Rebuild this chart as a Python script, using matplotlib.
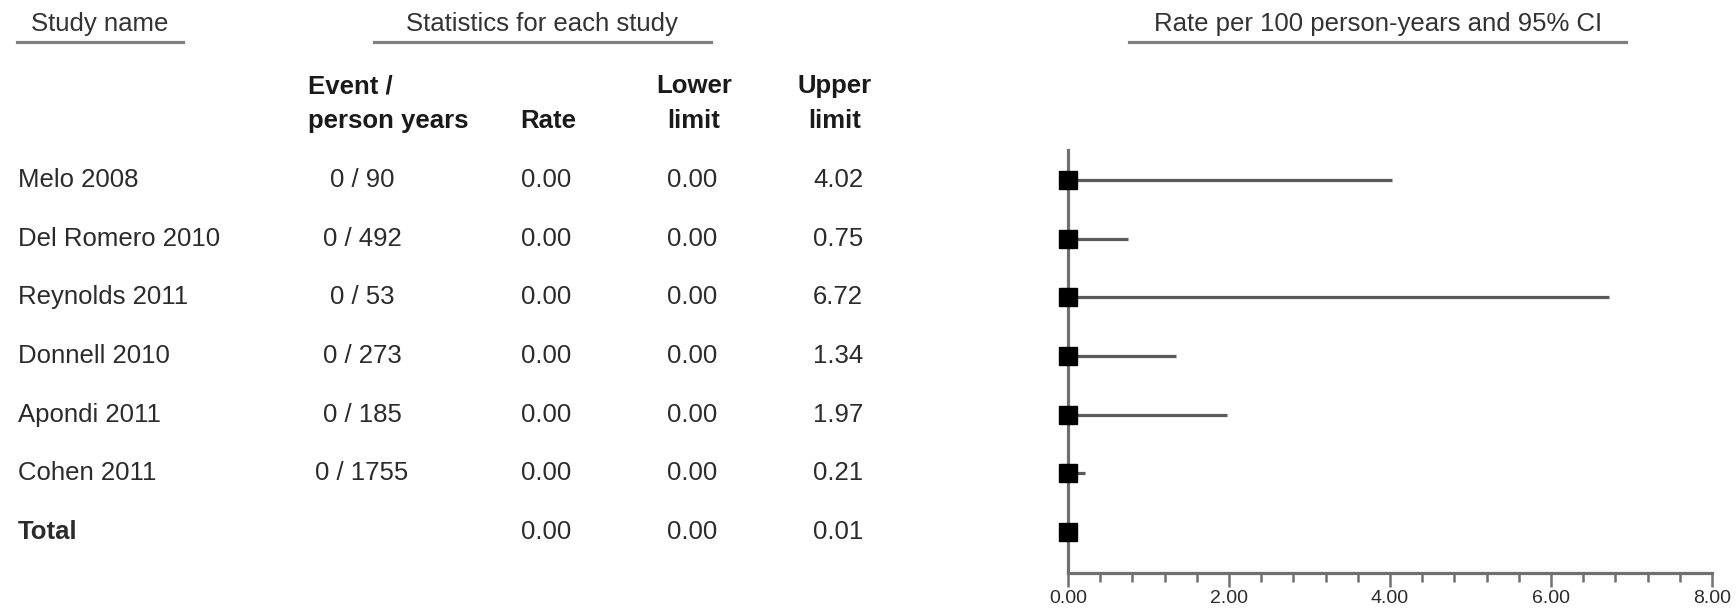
import matplotlib
matplotlib.use("Agg")
import matplotlib.pyplot as plt
from matplotlib import transforms
from matplotlib.lines import Line2D
from matplotlib.ticker import MultipleLocator, FormatStrFormatter

# ---------------- data ----------------
studies = ["Melo 2008", "Del Romero 2010", "Reynolds 2011", "Donnell 2010",
           "Apondi 2011", "Cohen 2011", "Total"]
events = [0, 0, 0, 0, 0, 0, None]
person_years = [90, 492, 53, 273, 185, 1755, None]
rate = [0.00, 0.00, 0.00, 0.00, 0.00, 0.00, 0.00]
lower = [0.00, 0.00, 0.00, 0.00, 0.00, 0.00, 0.00]
upper = [4.02, 0.75, 6.72, 1.34, 1.97, 0.21, 0.01]
x_ticks = [0, 2, 4, 6, 8]

# ---------------- layout ----------------
W, H = 1736, 608
plt.rcParams['font.family'] = ['Liberation Sans', 'DejaVu Sans']
fig = plt.figure(figsize=(W / 100, H / 100), dpi=100)
fig.patch.set_facecolor("white")

ax_left, ax_right, ax_top, ax_bottom = 1068, 1712, 150, 573
ax = fig.add_axes([ax_left / W, 1 - ax_bottom / H,
                   (ax_right - ax_left) / W, (ax_bottom - ax_top) / H])

rows = list(range(len(studies)))
grey_axis = "#707070"
line_col = "#5a5a5a"
txt_col = "#2b2b2b"
fs = 18.5

ax.hlines(rows, lower, upper, color=line_col, lw=2.3, zorder=2)
ax.plot(rate, rows, linestyle="none", marker="s", markersize=13.5,
        color="black", zorder=5, clip_on=False)

ax.set_xlim(0, 8)
ax.set_ylim(6.7, -0.515)
for s in ["top", "right"]:
    ax.spines[s].set_visible(False)
for s in ["left", "bottom"]:
    ax.spines[s].set_color(grey_axis)
    ax.spines[s].set_linewidth(2.3)
    ax.spines[s].set_zorder(1)
ax.set_yticks([])
ax.set_xticks(x_ticks)
ax.xaxis.set_minor_locator(MultipleLocator(0.4))
ax.xaxis.set_major_formatter(FormatStrFormatter("%.2f"))
ax.tick_params(axis="x", which="major", length=10, width=1.8, color=grey_axis,
               labelsize=14, labelcolor=txt_col, pad=2)
ax.tick_params(axis="x", which="minor", length=6.5, width=1.8, color=grey_axis)
ax.set_facecolor("none")

# blended transform: x in figure pixels, y in data rows
trans = transforms.blended_transform_factory(fig.transFigure, ax.transData)

def fx(px):
    return px / W

def fy(py):
    return 1 - py / H

name_x, event_x, rate_x, lower_x, upper_x = 18, 362, 546, 692, 838
for i, name in enumerate(studies):
    bold = name == "Total"
    fig.text(fx(name_x), i, name, transform=trans, ha="left", va="center",
             fontsize=fs, color=txt_col, fontweight="bold" if bold else "normal")
    if events[i] is not None:
        fig.text(fx(event_x), i, f"{events[i]} / {person_years[i]}", transform=trans,
                 ha="center", va="center", fontsize=fs, color=txt_col)
    fig.text(fx(rate_x), i, f"{rate[i]:.2f}", transform=trans, ha="center",
             va="center", fontsize=fs, color=txt_col)
    fig.text(fx(lower_x), i, f"{lower[i]:.2f}", transform=trans, ha="center",
             va="center", fontsize=fs, color=txt_col)
    fig.text(fx(upper_x), i, f"{upper[i]:.2f}", transform=trans, ha="center",
             va="center", fontsize=fs, color=txt_col)

# column headers
hdr = dict(fontsize=fs, color="#1a1a1a", fontweight="bold", va="center")
fig.text(fx(308), fy(86), "Event /", ha="left", **hdr)
fig.text(fx(308), fy(121), "person years", ha="left", **hdr)
fig.text(fx(548), fy(121), "Rate", ha="center", **hdr)
fig.text(fx(694), fy(86), "Lower", ha="center", **hdr)
fig.text(fx(694), fy(121), "limit", ha="center", **hdr)
fig.text(fx(835), fy(86), "Upper", ha="center", **hdr)
fig.text(fx(835), fy(121), "limit", ha="center", **hdr)

# group titles with underlines
titles = [("Study name", 100, 17, 183),
          ("Statistics for each study", 542, 374, 711),
          ("Rate per 100 person-years and 95% CI", 1378, 1129, 1626)]
for t, cx, x0, x1 in titles:
    fig.text(fx(cx), fy(24), t, ha="center", va="center", fontsize=fs, color="#333333")
    fig.add_artist(Line2D([fx(x0), fx(x1)], [fy(42), fy(42)], transform=fig.transFigure,
                          color="#808080", lw=2.3))

fig.savefig("out.png", dpi=100, facecolor="white")
